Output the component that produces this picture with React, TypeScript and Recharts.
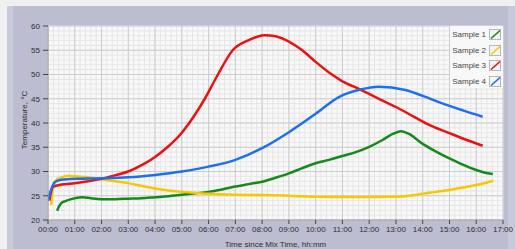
import React from 'react';
import { LineChart, Line, XAxis, YAxis, CartesianGrid, Legend, Label } from 'recharts';

const hourTicks = [0, 1, 2, 3, 4, 5, 6, 7, 8, 9, 10, 11, 12, 13, 14, 15, 16, 17];
const tempTicks = [20, 25, 30, 35, 40, 45, 50, 55, 60];

const seriesNames = ['Sample 1', 'Sample 2', 'Sample 3', 'Sample 4'];
const seriesColors = ['#15891a', '#f7c800', '#ea1111', '#1c6ff0'];

const s1Hours = [0.34, 0.42, 0.5, 0.65, 0.8, 1.0, 1.3, 1.6, 2.0, 2.5, 3.0, 3.5, 4.0, 4.5, 5.0, 5.5, 6.0, 6.5, 7.0, 7.5, 8.0, 8.5, 9.0, 9.5, 10.0, 10.5, 11.0, 11.5, 12.0, 12.5, 12.9, 13.2, 13.5, 14.0, 14.5, 15.0, 15.5, 16.0, 16.3, 16.62];
const s1Temps = [21.9, 22.9, 23.5, 23.9, 24.2, 24.5, 24.7, 24.5, 24.3, 24.3, 24.4, 24.5, 24.7, 24.9, 25.2, 25.5, 25.8, 26.3, 26.9, 27.4, 27.9, 28.7, 29.6, 30.7, 31.7, 32.4, 33.2, 34.0, 35.1, 36.5, 37.8, 38.3, 37.7, 35.7, 34.1, 32.7, 31.4, 30.3, 29.8, 29.5];

const s2Hours = [0.12, 0.18, 0.3, 0.5, 0.8, 1.0, 1.5, 2.0, 2.5, 3.0, 3.5, 4.0, 4.5, 5.0, 5.5, 6.0, 7.0, 8.0, 9.0, 10.0, 11.0, 12.0, 13.0, 13.5, 14.0, 14.5, 15.0, 15.5, 16.0, 16.64];
const s2Temps = [23.1, 26.5, 28.2, 28.8, 29.1, 29.0, 28.8, 28.4, 28.0, 27.6, 27.0, 26.5, 26.1, 25.8, 25.6, 25.4, 25.2, 25.15, 25.0, 24.8, 24.75, 24.75, 24.8, 25.0, 25.4, 25.8, 26.2, 26.7, 27.2, 28.1];

const s3Hours = [0.05, 0.1, 0.2, 0.5, 1.0, 1.5, 2.0, 2.5, 3.0, 3.5, 4.0, 4.5, 5.0, 5.5, 5.86, 6.35, 6.9, 7.5, 8.1, 8.5, 9.0, 9.5, 10.0, 10.5, 11.0, 11.67, 12.0, 12.5, 13.0, 13.7, 14.2, 15.0, 15.5, 16.24];
const s3Temps = [24.0, 25.5, 26.9, 27.3, 27.6, 28.0, 28.5, 29.2, 30.0, 31.3, 33.0, 35.2, 38.0, 41.8, 45.0, 50.0, 55.0, 57.1, 58.1, 57.9, 56.8, 55.0, 52.6, 50.4, 48.6, 46.9, 46.0, 44.6, 43.3, 41.2, 39.7, 37.9, 36.8, 35.3];

const s4Hours = [0.0, 0.1, 0.25, 0.5, 1.0, 2.0, 3.0, 4.0, 5.0, 6.0, 7.0, 8.0, 9.0, 10.0, 10.85, 11.67, 12.35, 13.35, 14.0, 14.6, 15.5, 16.24];
const s4Temps = [24.0, 26.0, 27.8, 28.3, 28.5, 28.6, 28.8, 29.3, 30.0, 31.0, 32.4, 34.8, 38.1, 41.9, 45.3, 46.9, 47.5, 46.8, 45.6, 44.3, 42.6, 41.3];

const seriesHours = [s1Hours, s2Hours, s3Hours, s4Hours];
const seriesTemps = [s1Temps, s2Temps, s3Temps, s4Temps];

const toPoints = (hs: number[], ts: number[]) => hs.map((h, i) => ({ h, v: ts[i] }));

const minorX: number[] = [];
for (let i = 0; i <= 85; i++) minorX.push(i * 0.2);
const minorY: number[] = [];
for (let t = 20; t <= 60; t++) minorY.push(t);

const pad = (n: number) => (n < 10 ? '0' + n : '' + n) + ':00';

const FONT = '"Liberation Sans", Arial, sans-serif';
const TEXT = '#2e2e2e';

const LegendContent = (props: any) => {
  const payload = props.payload || [];
  return (
    <div style={{ background: '#f8f8f8', width: 53, height: 62, fontFamily: FONT, fontSize: 8, color: '#444', paddingTop: 1, boxSizing: 'border-box' }}>
      {payload.map((p: any) => (
        <div key={p.value} style={{ display: 'flex', alignItems: 'center', height: 15.5, whiteSpace: 'nowrap' }}>
          <div style={{ width: 39, textAlign: 'right', paddingRight: 3, boxSizing: 'border-box', whiteSpace: 'nowrap' }}>{p.value}</div>
          <svg width={12} height={11} style={{ display: 'block' }}>
            <rect x={0.5} y={0.5} width={11} height={10} fill="#f4f4f4" stroke="#b8b8b8" />
            <line x1={2} y1={9.5} x2={11} y2={1.5} stroke={p.color} strokeWidth={1.6} />
          </svg>
        </div>
      ))}
    </div>
  );
};

export default function App() {
  return (
    <div style={{ position: 'absolute', left: 0, top: 0, width: 515, height: 249, background: '#f0f0f0', overflow: 'hidden', fontFamily: FONT }}>
      <div style={{ position: 'absolute', left: 7, top: 6, width: 508, height: 243, background: '#bcbdd1' }} />
      <div style={{ position: 'absolute', left: 7, top: 6, width: 6, height: 243, background: '#c9cadb' }} />
      <div style={{ position: 'absolute', left: 508, top: 6, width: 7, height: 243, background: '#c7c8d9' }} />
      <div style={{ position: 'absolute', left: 0, top: 0 }}>
        <LineChart width={515} height={249} margin={{ top: 26, right: 12, bottom: 0, left: 0 }}>
          <CartesianGrid fill="#f8f8f8" stroke="#e6e6e6" horizontalValues={minorY} verticalValues={minorX} />
          <CartesianGrid stroke="#cdcdcd" horizontalValues={tempTicks} verticalValues={hourTicks} />
          <XAxis
            type="number"
            dataKey="h"
            domain={[0, 17]}
            ticks={hourTicks}
            tickFormatter={pad}
            allowDataOverflow
            height={29}
            tickSize={4}
            tickMargin={2}
            interval={0}
            stroke="#9a9a9a"
            tickLine={{ stroke: '#444' }}
            tick={{ fill: TEXT, fontSize: 8, fontFamily: FONT }}
          >
            <Label value="Time since Mix Time, hh:mm" position="insideBottom" offset={2} fontSize={8} fill={TEXT} fontFamily={FONT} />
          </XAxis>
          <YAxis
            type="number"
            domain={[20, 60]}
            ticks={tempTicks}
            allowDataOverflow
            width={48}
            tickSize={5}
            tickMargin={3}
            interval={0}
            stroke="#9a9a9a"
            tickLine={{ stroke: '#444' }}
            tick={{ fill: TEXT, fontSize: 8, fontFamily: FONT }}
          >
            <Label
              content={(p: any) => {
                const vb = p.viewBox || { x: 0, y: 26, width: 48, height: 194 };
                const cx = vb.x + 24;
                const cy = vb.y + vb.height / 2 - 3;
                return (
                  <text x={cx} y={cy} transform={`rotate(-90 ${cx} ${cy})`} textAnchor="middle" dominantBaseline="central" fontSize={8} fill={TEXT} fontFamily={FONT}>
                    Temperature, °C
                  </text>
                );
              }}
            />
          </YAxis>
          {seriesNames.map((name, i) => (
            <Line
              key={name}
              name={name}
              data={toPoints(seriesHours[i], seriesTemps[i])}
              dataKey="v"
              type="monotone"
              stroke={seriesColors[i]}
              strokeWidth={2.5}
              dot={false}
              isAnimationActive={false}
            />
          ))}
          <Legend
            layout="horizontal"
            verticalAlign="middle"
            align="center"
            content={LegendContent}
            wrapperStyle={{ left: 450, top: 26, width: 53, height: 62 }}
          />
        </LineChart>
      </div>
    </div>
  );
}
